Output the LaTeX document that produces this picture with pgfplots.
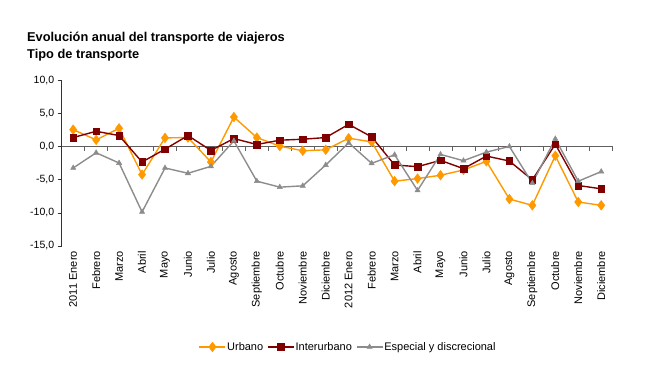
\documentclass[border=0pt]{standalone}
\usepackage{fontspec}
\setmainfont{Liberation Sans}
\usepackage{pgfplots}
\usepackage{pgfplotstable}
\pgfplotsset{compat=1.18}
\definecolor{urb}{HTML}{FF9900}
\definecolor{inter}{HTML}{800000}
\definecolor{esp}{HTML}{8C8C8C}
\definecolor{axgray}{HTML}{606060}

\pgfplotstableread{
x urb inter esp
0 2.6 1.4 -3.2
1 1.05 2.35 -0.9
2 2.8 1.7 -2.45
3 -4.2 -2.3 -9.85
4 1.35 -0.35 -3.2
5 1.4 1.7 -4.0
6 -2.3 -0.55 -2.95
7 4.5 1.25 0.9
8 1.4 0.35 -5.2
9 0.1 1.0 -6.1
10 -0.6 1.15 -5.9
11 -0.45 1.4 -2.75
12 1.3 3.4 0.6
13 0.75 1.5 -2.5
14 -5.2 -2.75 -1.2
15 -4.8 -3.0 -6.6
16 -4.3 -2.05 -1.15
17 -3.5 -3.3 -2.1
18 -2.2 -1.4 -0.8
19 -7.9 -2.15 0.05
20 -8.85 -5.0 -5.5
21 -1.35 0.4 1.2
22 -8.35 -5.85 -5.2
23 -8.85 -6.35 -3.75
}\datatable

\begin{document}
\begin{tikzpicture}
\useasboundingbox (0,0) rectangle (651pt,388pt);
\node[anchor=base west, inner sep=0, font=\bfseries\fontsize{12.8}{15}\selectfont] at (27pt,346pt) {Evolución anual del transporte de viajeros};
\node[anchor=base west, inner sep=0, font=\bfseries\fontsize{12.8}{15}\selectfont] at (27pt,329.5pt) {Tipo de transporte};
% zero line with ticks
\begin{axis}[
  at={(61.7pt,142pt)}, anchor=south west,
  scale only axis, width=551pt, height=165.3pt,
  xmin=-0.5, xmax=23.5, ymin=-15, ymax=10,
  axis x line=middle, axis y line=none,
  axis line style={-, draw=axgray, line width=0.9pt},
  xtick={0.5,1.5,...,23.5}, xticklabels={},
  x tick style={draw=axgray, line width=0.8pt},
  xtick align=outside, major tick length=4pt,
  ytick=\empty,
]
\end{axis}
\begin{axis}[
  at={(61.7pt,142pt)}, anchor=south west,
  scale only axis, width=551pt, height=165.3pt,
  xmin=-0.5, xmax=23.5, ymin=-15, ymax=10,
  clip=false,
  axis y line=left, axis x line*=bottom,
  x axis line style={draw=none},
  y axis line style={-, draw=black!80, line width=0.8pt},
  ytick={-15,-10,-5,0,5,10},
  ytick align=outside, major tick length=4pt,
  y tick style={draw=black!80, line width=0.8pt},
  xtick=data, x tick style={draw=none},
  xticklabels={2011 Enero,Febrero,Marzo,Abril,Mayo,Junio,Julio,Agosto,Septiembre,Octubre,Noviembre,Diciembre,2012 Enero,Febrero,Marzo,Abril,Mayo,Junio,Julio,Agosto,Septiembre,Octubre,Noviembre,Diciembre},
  xticklabel style={rotate=90, anchor=east, font=\fontsize{11}{13}\selectfont, inner ysep=1pt, inner xsep=5pt},
  yticklabel style={font=\fontsize{10.5}{12}\selectfont},
  /pgf/number format/.cd, fixed, zerofill, precision=1, use comma, assume math mode=true,
  /pgfplots/.cd,
  legend columns=3,
  legend style={draw=none, at={(0.519,-0.611)}, anchor=center, font=\fontsize{11}{13}\selectfont,
    /tikz/every even column/.append style={column sep=3pt},
    nodes={inner sep=1pt}},
  legend image code/.code={\draw[mark repeat=2,mark phase=2] plot coordinates {(0pt,0pt)(13pt,0pt)(26pt,0pt)};},
]
\addplot[color=urb, line width=1.4pt, mark=diamond*, mark size=4.8pt, mark options={fill=urb, line width=0.5pt}] table[x=x,y=urb]{\datatable};
\addlegendentry{Urbano}
\addplot[color=inter, line width=1.4pt, mark=square*, mark size=3.3pt, mark options={fill=inter, line width=0.5pt}] table[x=x,y=inter]{\datatable};
\addlegendentry{Interurbano}
\addplot[color=esp, line width=1.4pt, mark=triangle*, mark size=3pt, mark options={fill=esp, line width=0.5pt}] table[x=x,y=esp]{\datatable};
\addlegendentry{Especial y discrecional}
\end{axis}
\end{tikzpicture}
\end{document}
